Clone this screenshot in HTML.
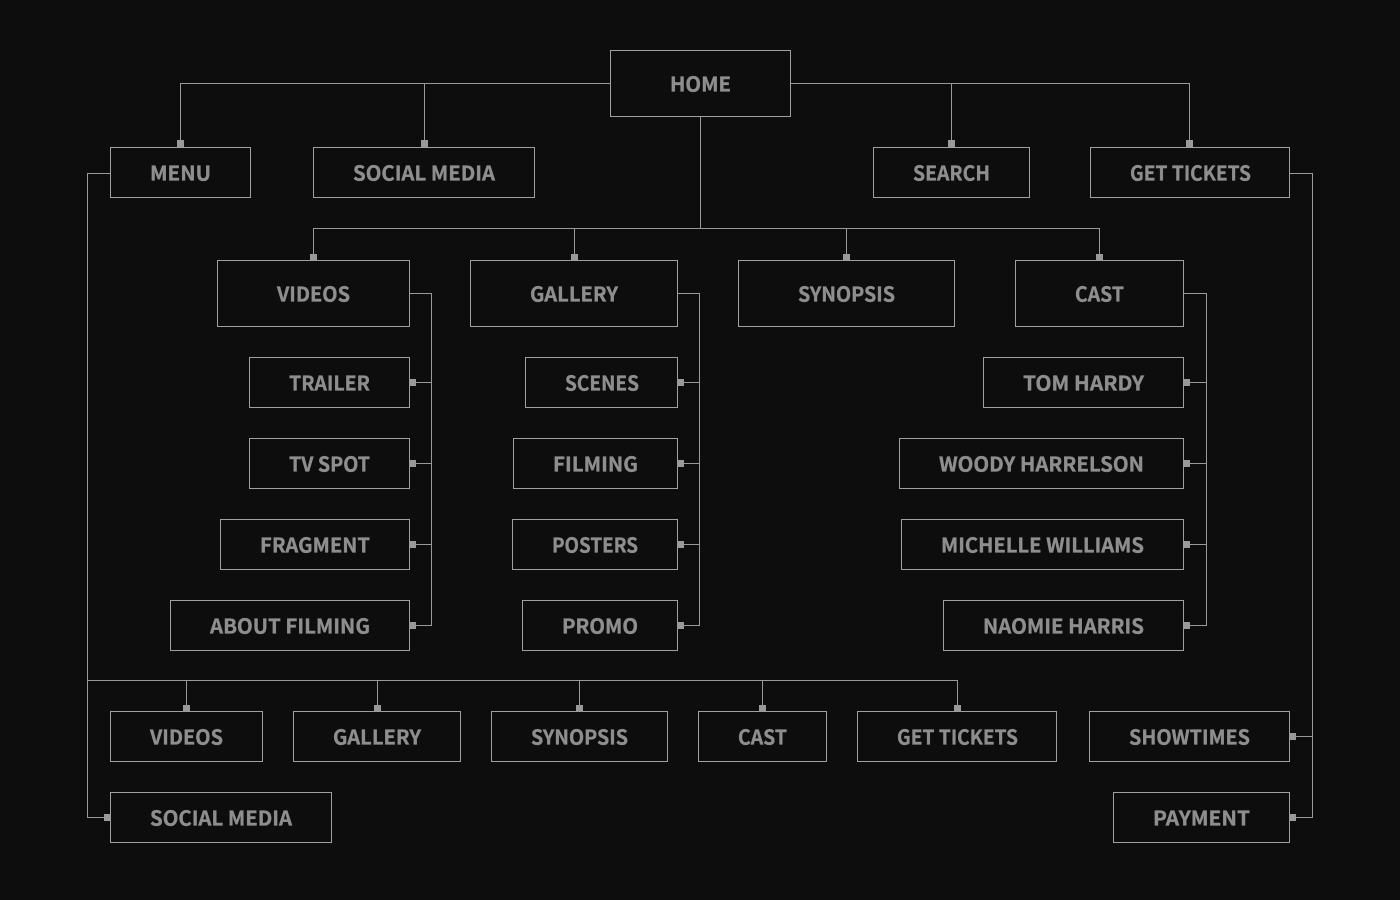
<!DOCTYPE html>
<html><head><meta charset="utf-8"><style>
html,body{margin:0;padding:0;background:#0d0d0e;}
svg{display:block;}
text{font-family:"Noto Sans CJK JP","Liberation Sans",sans-serif;font-weight:700;font-size:20.5px;fill:#8e8e8e;stroke:#8e8e8e;stroke-width:.35px;}
.b{fill:none;stroke:#a0a0a0;stroke-width:1;}
.l{fill:none;stroke:#999;stroke-width:1;}
.s{fill:#999;}
</style></head><body>
<svg width="1400" height="900" viewBox="0 0 1400 900" xmlns="http://www.w3.org/2000/svg">
<rect width="1400" height="900" fill="#0d0d0e"/>
<path class="l" d="M610 83.5H180.5V141M424.5 83.5V141M791 83.5H1189.5V141M951.5 83.5V141M700.5 117V228.5M313.5 254V228.5H1099.5V254M574.5 228.5V254M846.5 228.5V254
M410 293.5H431.5V625.5H416M416 382.5H431.5M416 463.5H431.5M416 544.5H431.5
M678 293.5H699.5V625.5H684M684 382.5H699.5M684 463.5H699.5M684 544.5H699.5
M1184 293.5H1206.5V625.5H1190M1190 382.5H1206.5M1190 463.5H1206.5M1190 544.5H1206.5
M1290 173.5H1312.5V817.5H1296M1296 736.5H1312.5
M110 173.5H87.5V817.5H104M87.5 680.5H957.5V705M186.5 680.5V705M377.5 680.5V705M579.5 680.5V705M762.5 680.5V705"/>
<g class="b">
<rect x="610.5" y="50.5" width="180" height="66"/>
<rect x="110.5" y="147.5" width="140" height="50"/>
<rect x="313.5" y="147.5" width="221" height="50"/>
<rect x="873.5" y="147.5" width="156" height="50"/>
<rect x="1090.5" y="147.5" width="199" height="50"/>
<rect x="217.5" y="260.5" width="192" height="66"/>
<rect x="470.5" y="260.5" width="207" height="66"/>
<rect x="738.5" y="260.5" width="216" height="66"/>
<rect x="1015.5" y="260.5" width="168" height="66"/>
<rect x="249.5" y="357.5" width="160" height="50"/>
<rect x="249.5" y="438.5" width="160" height="50"/>
<rect x="220.5" y="519.5" width="189" height="50"/>
<rect x="170.5" y="600.5" width="239" height="50"/>
<rect x="525.5" y="357.5" width="152" height="50"/>
<rect x="513.5" y="438.5" width="164" height="50"/>
<rect x="512.5" y="519.5" width="165" height="50"/>
<rect x="522.5" y="600.5" width="155" height="50"/>
<rect x="983.5" y="357.5" width="200" height="50"/>
<rect x="899.5" y="438.5" width="284" height="50"/>
<rect x="901.5" y="519.5" width="282" height="50"/>
<rect x="943.5" y="600.5" width="240" height="50"/>
<rect x="110.5" y="711.5" width="152" height="50"/>
<rect x="293.5" y="711.5" width="167" height="50"/>
<rect x="491.5" y="711.5" width="176" height="50"/>
<rect x="698.5" y="711.5" width="128" height="50"/>
<rect x="857.5" y="711.5" width="199" height="50"/>
<rect x="1089.5" y="711.5" width="200" height="50"/>
<rect x="110.5" y="792.5" width="221" height="50"/>
<rect x="1113.5" y="792.5" width="176" height="50"/>
</g>
<g class="s">
<rect x="177" y="140" width="7" height="7"/><rect x="421" y="140" width="7" height="7"/><rect x="948" y="140" width="7" height="7"/><rect x="1186" y="140" width="7" height="7"/>
<rect x="310" y="254" width="7" height="6.5"/><rect x="571" y="254" width="7" height="6.5"/><rect x="843" y="254" width="7" height="6.5"/><rect x="1096" y="254" width="7" height="6.5"/>
<rect x="409.5" y="379" width="6.5" height="7"/><rect x="409.5" y="460" width="6.5" height="7"/><rect x="409.5" y="541" width="6.5" height="7"/><rect x="409.5" y="622" width="6.5" height="7"/>
<rect x="677.5" y="379" width="6.5" height="7"/><rect x="677.5" y="460" width="6.5" height="7"/><rect x="677.5" y="541" width="6.5" height="7"/><rect x="677.5" y="622" width="6.5" height="7"/>
<rect x="1183.5" y="379" width="6.5" height="7"/><rect x="1183.5" y="460" width="6.5" height="7"/><rect x="1183.5" y="541" width="6.5" height="7"/><rect x="1183.5" y="622" width="6.5" height="7"/>
<rect x="183" y="705" width="7" height="6.5"/><rect x="374" y="705" width="7" height="6.5"/><rect x="576" y="705" width="7" height="6.5"/><rect x="759" y="705" width="7" height="6.5"/><rect x="954" y="705" width="7" height="6.5"/>
<rect x="1289.5" y="733" width="6.5" height="7"/><rect x="1289.5" y="814" width="6.5" height="7"/><rect x="104" y="814" width="6.5" height="7"/>
</g>
<g>
<text x="670" y="91.5" textLength="61" lengthAdjust="spacingAndGlyphs">HOME</text>
<text x="150" y="180.5" textLength="61" lengthAdjust="spacingAndGlyphs">MENU</text>
<text x="353" y="180.5" textLength="142" lengthAdjust="spacingAndGlyphs">SOCIAL MEDIA</text>
<text x="913" y="180.5" textLength="77" lengthAdjust="spacingAndGlyphs">SEARCH</text>
<text x="1130" y="180.5" textLength="121" lengthAdjust="spacingAndGlyphs">GET TICKETS</text>
<text x="277" y="301.5" textLength="73" lengthAdjust="spacingAndGlyphs">VIDEOS</text>
<text x="530" y="301.5" textLength="88" lengthAdjust="spacingAndGlyphs">GALLERY</text>
<text x="798" y="301.5" textLength="97" lengthAdjust="spacingAndGlyphs">SYNOPSIS</text>
<text x="1075" y="301.5" textLength="49" lengthAdjust="spacingAndGlyphs">CAST</text>
<text x="289" y="390.5" textLength="81" lengthAdjust="spacingAndGlyphs">TRAILER</text>
<text x="289" y="471.5" textLength="81" lengthAdjust="spacingAndGlyphs">TV SPOT</text>
<text x="260" y="552.5" textLength="110" lengthAdjust="spacingAndGlyphs">FRAGMENT</text>
<text x="210" y="633.5" textLength="160" lengthAdjust="spacingAndGlyphs">ABOUT FILMING</text>
<text x="565" y="390.5" textLength="74" lengthAdjust="spacingAndGlyphs">SCENES</text>
<text x="553" y="471.5" textLength="85" lengthAdjust="spacingAndGlyphs">FILMING</text>
<text x="552" y="552.5" textLength="86" lengthAdjust="spacingAndGlyphs">POSTERS</text>
<text x="562" y="633.5" textLength="76" lengthAdjust="spacingAndGlyphs">PROMO</text>
<text x="1023" y="390.5" textLength="121" lengthAdjust="spacingAndGlyphs">TOM HARDY</text>
<text x="939" y="471.5" textLength="205" lengthAdjust="spacingAndGlyphs">WOODY HARRELSON</text>
<text x="941" y="552.5" textLength="203" lengthAdjust="spacingAndGlyphs">MICHELLE WILLIAMS</text>
<text x="983" y="633.5" textLength="161" lengthAdjust="spacingAndGlyphs">NAOMIE HARRIS</text>
<text x="150" y="744.5" textLength="73" lengthAdjust="spacingAndGlyphs">VIDEOS</text>
<text x="333" y="744.5" textLength="88" lengthAdjust="spacingAndGlyphs">GALLERY</text>
<text x="531" y="744.5" textLength="97" lengthAdjust="spacingAndGlyphs">SYNOPSIS</text>
<text x="738" y="744.5" textLength="49" lengthAdjust="spacingAndGlyphs">CAST</text>
<text x="897" y="744.5" textLength="121" lengthAdjust="spacingAndGlyphs">GET TICKETS</text>
<text x="1129" y="744.5" textLength="121" lengthAdjust="spacingAndGlyphs">SHOWTIMES</text>
<text x="150" y="825.5" textLength="142" lengthAdjust="spacingAndGlyphs">SOCIAL MEDIA</text>
<text x="1153" y="825.5" textLength="97" lengthAdjust="spacingAndGlyphs">PAYMENT</text>
</g>
</svg>
</body></html>
